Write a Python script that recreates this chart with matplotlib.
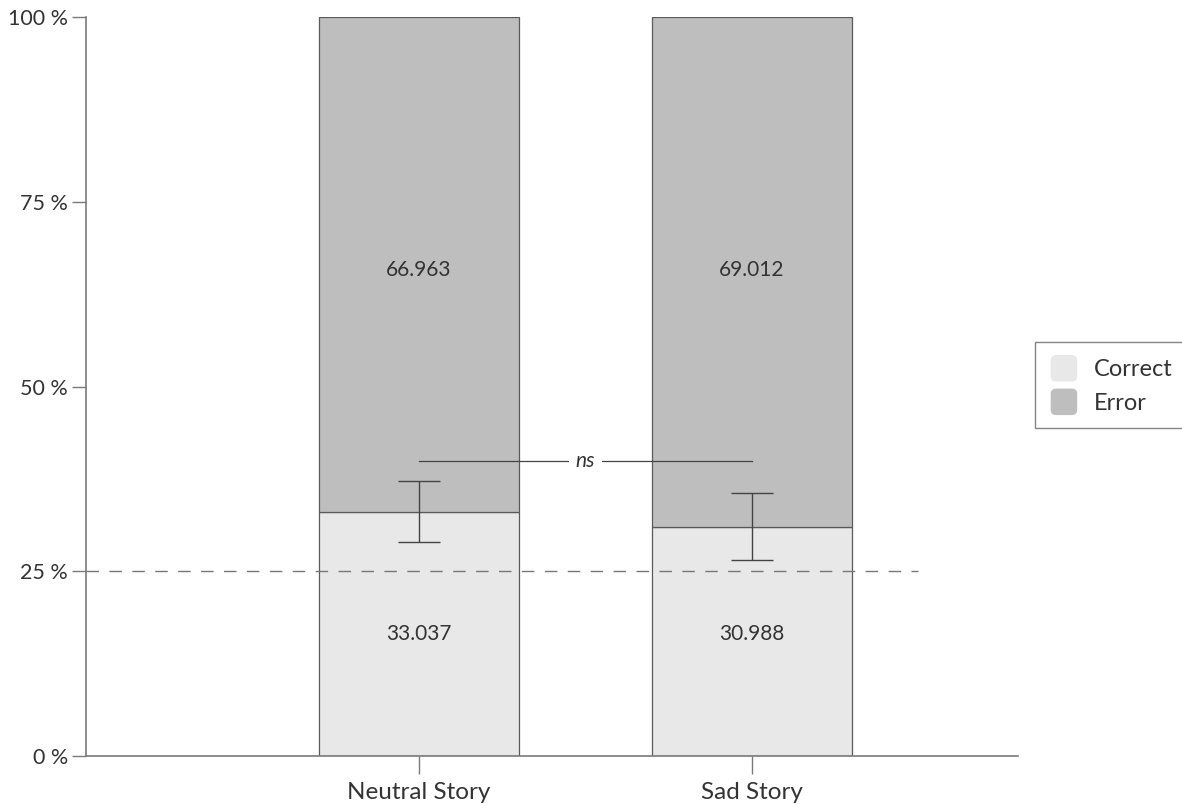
import matplotlib
matplotlib.use("Agg")
import matplotlib.pyplot as plt
from matplotlib.patches import FancyBboxPatch, Patch
from matplotlib.legend_handler import HandlerPatch

plt.rcParams['font.family'] = ['Lato', 'DejaVu Sans']

categories = ["Neutral Story", "Sad Story"]
correct = [33.037, 30.988]
error = [66.963, 69.012]
err_low = [4.12, 4.43]
err_high = [4.21, 4.60]
chance_level = 25
ns_height = 40
yticks = [0, 25, 50, 75, 100]
ytick_labels = ["0 %", "25 %", "50 %", "75 %", "100 %"]

correct_color = "#e8e8e8"
error_color = "#bebebe"
edge_color = "#5a5a5a"
axis_color = "#7a7a7a"
text_color = "#333333"

fig = plt.figure(figsize=(11.82, 8.05), dpi=100)
ax = fig.add_axes([86 / 1182, 1 - 756 / 805, (1018 - 86) / 1182, (756 - 17.3) / 805])

x = [1, 2]
width = 0.6
ax.bar(x, correct, width, color=correct_color, edgecolor=edge_color, linewidth=0.9,
       label="Correct", zorder=2)
ax.bar(x, error, width, bottom=correct, color=error_color, edgecolor=edge_color,
       linewidth=0.9, label="Error", zorder=2)

# value labels sit at a common height in each segment band
correct_label_y = 16.5
error_label_y = 65.8
for xi, c, e in zip(x, correct, error):
    ax.text(xi, correct_label_y, f"{c:.3f}", ha="center", va="center", fontsize=15,
            color=text_color, zorder=4)
    ax.text(xi, error_label_y, f"{e:.3f}", ha="center", va="center", fontsize=15,
            color=text_color, zorder=4)

ax.errorbar(x, correct, yerr=[err_low, err_high], fmt="none", ecolor="#444444",
            elinewidth=1.0, capsize=15, capthick=1.0, zorder=3)

# chance level
ax.plot([0, 2.5], [chance_level, chance_level], color="#777777", linewidth=1.0,
        dashes=(9, 7.5), zorder=5)

# significance bracket
ax.plot([x[0], x[1]], [ns_height, ns_height], color="#444444", linewidth=0.9, zorder=3)
ax.text((x[0] + x[1]) / 2, ns_height, "ns", ha="center", va="center", fontsize=15,
        style="italic", color=text_color, zorder=4,
        bbox=dict(facecolor="white", edgecolor="none", pad=5))

ax.set_xlim(0, 2.8)
ax.set_ylim(0, 100)
ax.set_xticks(x)
ax.set_xticklabels(categories, fontsize=17.5, color=text_color)
ax.set_yticks(yticks)
ax.set_yticklabels(ytick_labels, fontsize=15.5, color=text_color)
ax.tick_params(axis="y", length=10, width=1, color=axis_color, pad=3)
ax.tick_params(axis="x", length=13, width=1, color=axis_color, pad=6)
for s in ["top", "right"]:
    ax.spines[s].set_visible(False)
for s in ["left", "bottom"]:
    ax.spines[s].set_color(axis_color)
    ax.spines[s].set_linewidth(1.2)


class RoundedHandler(HandlerPatch):
    def create_artists(self, legend, orig_handle, xdescent, ydescent, width, height,
                       fontsize, trans):
        size = min(width, height)
        p = FancyBboxPatch((-xdescent + (width - size) / 2, -ydescent + (height - size) / 2),
                           size, size, boxstyle=f"round,pad=0,rounding_size={size * 0.2}",
                           facecolor=orig_handle.get_facecolor(), edgecolor="none",
                           transform=trans)
        return [p]


handles = [Patch(facecolor=correct_color, label="Correct"),
           Patch(facecolor=error_color, label="Error")]
leg = fig.legend(handles=handles, loc="upper left",
                 bbox_to_anchor=(1035 / 1182, 1 - 342 / 805),
                 fontsize=17, frameon=True, fancybox=False, edgecolor="#666666",
                 handler_map={Patch: RoundedHandler()},
                 handlelength=1.35, handleheight=1.35, handletextpad=0.6,
                 labelspacing=0.3, borderpad=0.55, borderaxespad=0)
leg.get_frame().set_linewidth(1.0)
for t in leg.get_texts():
    t.set_color(text_color)

fig.savefig("out.png", dpi=100)
